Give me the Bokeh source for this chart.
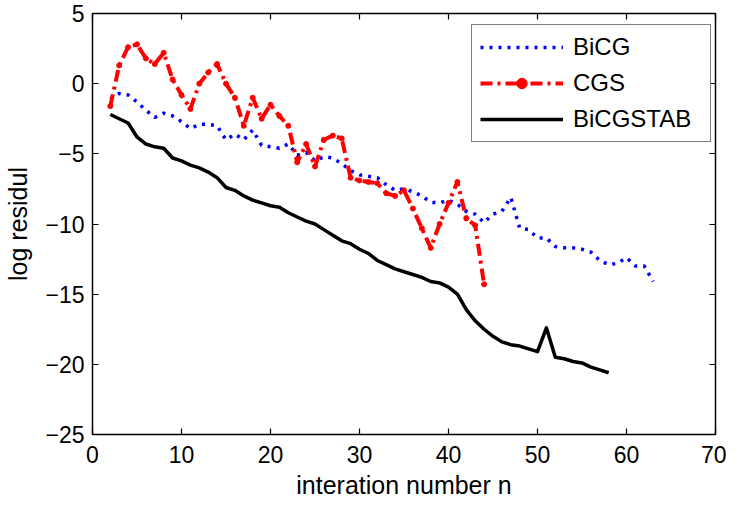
from bokeh.plotting import figure
from bokeh.models import (LinearAxis, Legend, LegendItem, Range1d)
from bokeh.embed import file_html
from bokeh.resources import INLINE

# ---- data ----
iter_bicg = list(range(2, 64))
bicg = [-1.1, -0.7, -0.8, -1.3, -1.9, -2.4, -2.1, -2.3, -2.7, -3.2, -2.9, -2.9, -3.0,
        -4.0, -3.6, -4.0, -3.3, -4.4, -4.5, -4.6, -4.3, -5.1, -4.9, -5.5, -5.2, -5.3,
        -5.7, -6.2, -6.5, -6.6, -6.7, -7.2, -7.6, -7.5, -7.7, -8.0, -8.45, -8.5, -8.3,
        -8.6, -9.1, -9.3, -9.9, -9.3, -9.1, -8.1, -10.3, -10.4, -11.0, -11.0, -11.6,
        -11.7, -11.7, -11.8, -12.0, -12.6, -12.9, -12.8, -12.4, -13.0, -13.0, -14.1]

iter_cgs = list(range(2, 45))
cgs = [-1.6, 1.3, 2.6, 2.8, 1.8, 1.4, 2.2, 0.3, -0.8, -1.8, 0.0, 0.8, 1.4, 0.0, -1.0,
       -3.0, -1.0, -2.5, -1.5, -2.3, -3.0, -5.6, -4.3, -5.9, -4.0, -3.7, -3.9, -6.7,
       -6.9, -7.0, -7.1, -7.8, -8.0, -7.6, -8.9, -10.3, -11.7, -10.0, -8.5, -7.0,
       -9.6, -10.1, -14.3]

iter_stab = list(range(2, 59))
bicgstab = [-2.2, -2.5, -2.8, -3.8, -4.3, -4.5, -4.6, -5.3, -5.5, -5.8, -6.0, -6.3,
            -6.7, -7.4, -7.6, -8.0, -8.3, -8.5, -8.7, -8.8, -9.2, -9.5, -9.8, -10.0,
            -10.4, -10.8, -11.2, -11.4, -11.8, -12.1, -12.6, -12.9, -13.2, -13.4,
            -13.6, -13.8, -14.1, -14.2, -14.5, -15.0, -16.1, -16.9, -17.5, -18.0,
            -18.4, -18.6, -18.7, -18.9, -19.1, -17.4, -19.5, -19.6, -19.8, -19.9,
            -20.2, -20.4, -20.6]

labels = ["BiCG", "CGS", "BiCGSTAB"]
x_label = "interation number n"
y_label = "log residul"
x_ticks = [0, 10, 20, 30, 40, 50, 60, 70]
y_ticks = [-25, -20, -15, -10, -5, 0, 5]

FONT = "Liberation Sans"

p = figure(width=726, height=501, output_backend="svg", toolbar_location=None,
           x_range=Range1d(0, 70), y_range=Range1d(-25, 5),
           min_border_left=92, min_border_right=11, min_border_top=13, min_border_bottom=64,
           x_axis_label=x_label, y_axis_label=y_label)
p.grid.visible = False
p.outline_line_color = "black"
p.outline_line_width = 1.5
p.background_fill_color = "white"
p.border_fill_color = "white"

for ax in [p.xaxis[0], p.yaxis[0]]:
    ax.axis_line_color = None
    ax.major_tick_in = 6
    ax.major_tick_out = 0
    ax.minor_tick_line_color = None
    ax.major_tick_line_width = 1.2
    ax.major_label_text_font = FONT
    ax.major_label_text_font_size = "23px"
    ax.major_label_text_color = "black"
    ax.axis_label_text_font = FONT
    ax.axis_label_text_font_size = "25px"
    ax.axis_label_text_font_style = "normal"
    ax.axis_label_text_color = "black"
p.xaxis[0].ticker = x_ticks
p.yaxis[0].ticker = y_ticks
p.xaxis[0].major_label_standoff = 11
p.xaxis[0].axis_label_standoff = 5
p.yaxis[0].major_label_standoff = 8
p.yaxis[0].axis_label_standoff = 10

for loc, ticks in [("above", x_ticks), ("right", y_ticks)]:
    ax = LinearAxis()
    ax.ticker = ticks
    ax.axis_line_color = None
    ax.major_tick_in = 6
    ax.major_tick_out = 0
    ax.major_tick_line_width = 1.2
    ax.minor_tick_line_color = None
    ax.major_label_overrides = {t: "" for t in ticks}
    ax.major_label_standoff = 0
    ax.major_label_text_font_size = "1px"
    p.add_layout(ax, loc)

r_bicg = p.line(iter_bicg, bicg, line_color="#0000ff", line_width=3.5,
                line_dash="3 6", line_cap="butt", line_join="round")
r_cgs = p.line(iter_cgs, cgs, line_color="#ff0000", line_width=4,
               line_dash="12 5 3 5", line_join="round")
r_cgs_m = p.scatter(iter_cgs, cgs, size=5, marker="circle", fill_color="#ff0000",
                    line_color="#ff0000")
r_stab = p.line(iter_stab, bicgstab, line_color="black", line_width=3.5,
                line_join="round")

legend = Legend(items=[LegendItem(label=labels[0], renderers=[r_bicg]),
                       LegendItem(label=labels[1], renderers=[r_cgs, r_cgs_m]),
                       LegendItem(label=labels[2], renderers=[r_stab])],
                location=(379, 292))
legend.label_text_font = FONT
legend.label_text_font_size = "24px"
legend.label_text_color = "black"
legend.glyph_width = 83
legend.glyph_height = 26
legend.label_height = 26
legend.label_width = 129
legend.label_standoff = 10
legend.spacing = 8
legend.padding = 8
legend.margin = 0
legend.border_line_color = "black"
legend.border_line_width = 1.5
legend.background_fill_color = "white"
legend.background_fill_alpha = 1
p.add_layout(legend, "center")

open("out.html", "w").write(file_html(p, INLINE))
